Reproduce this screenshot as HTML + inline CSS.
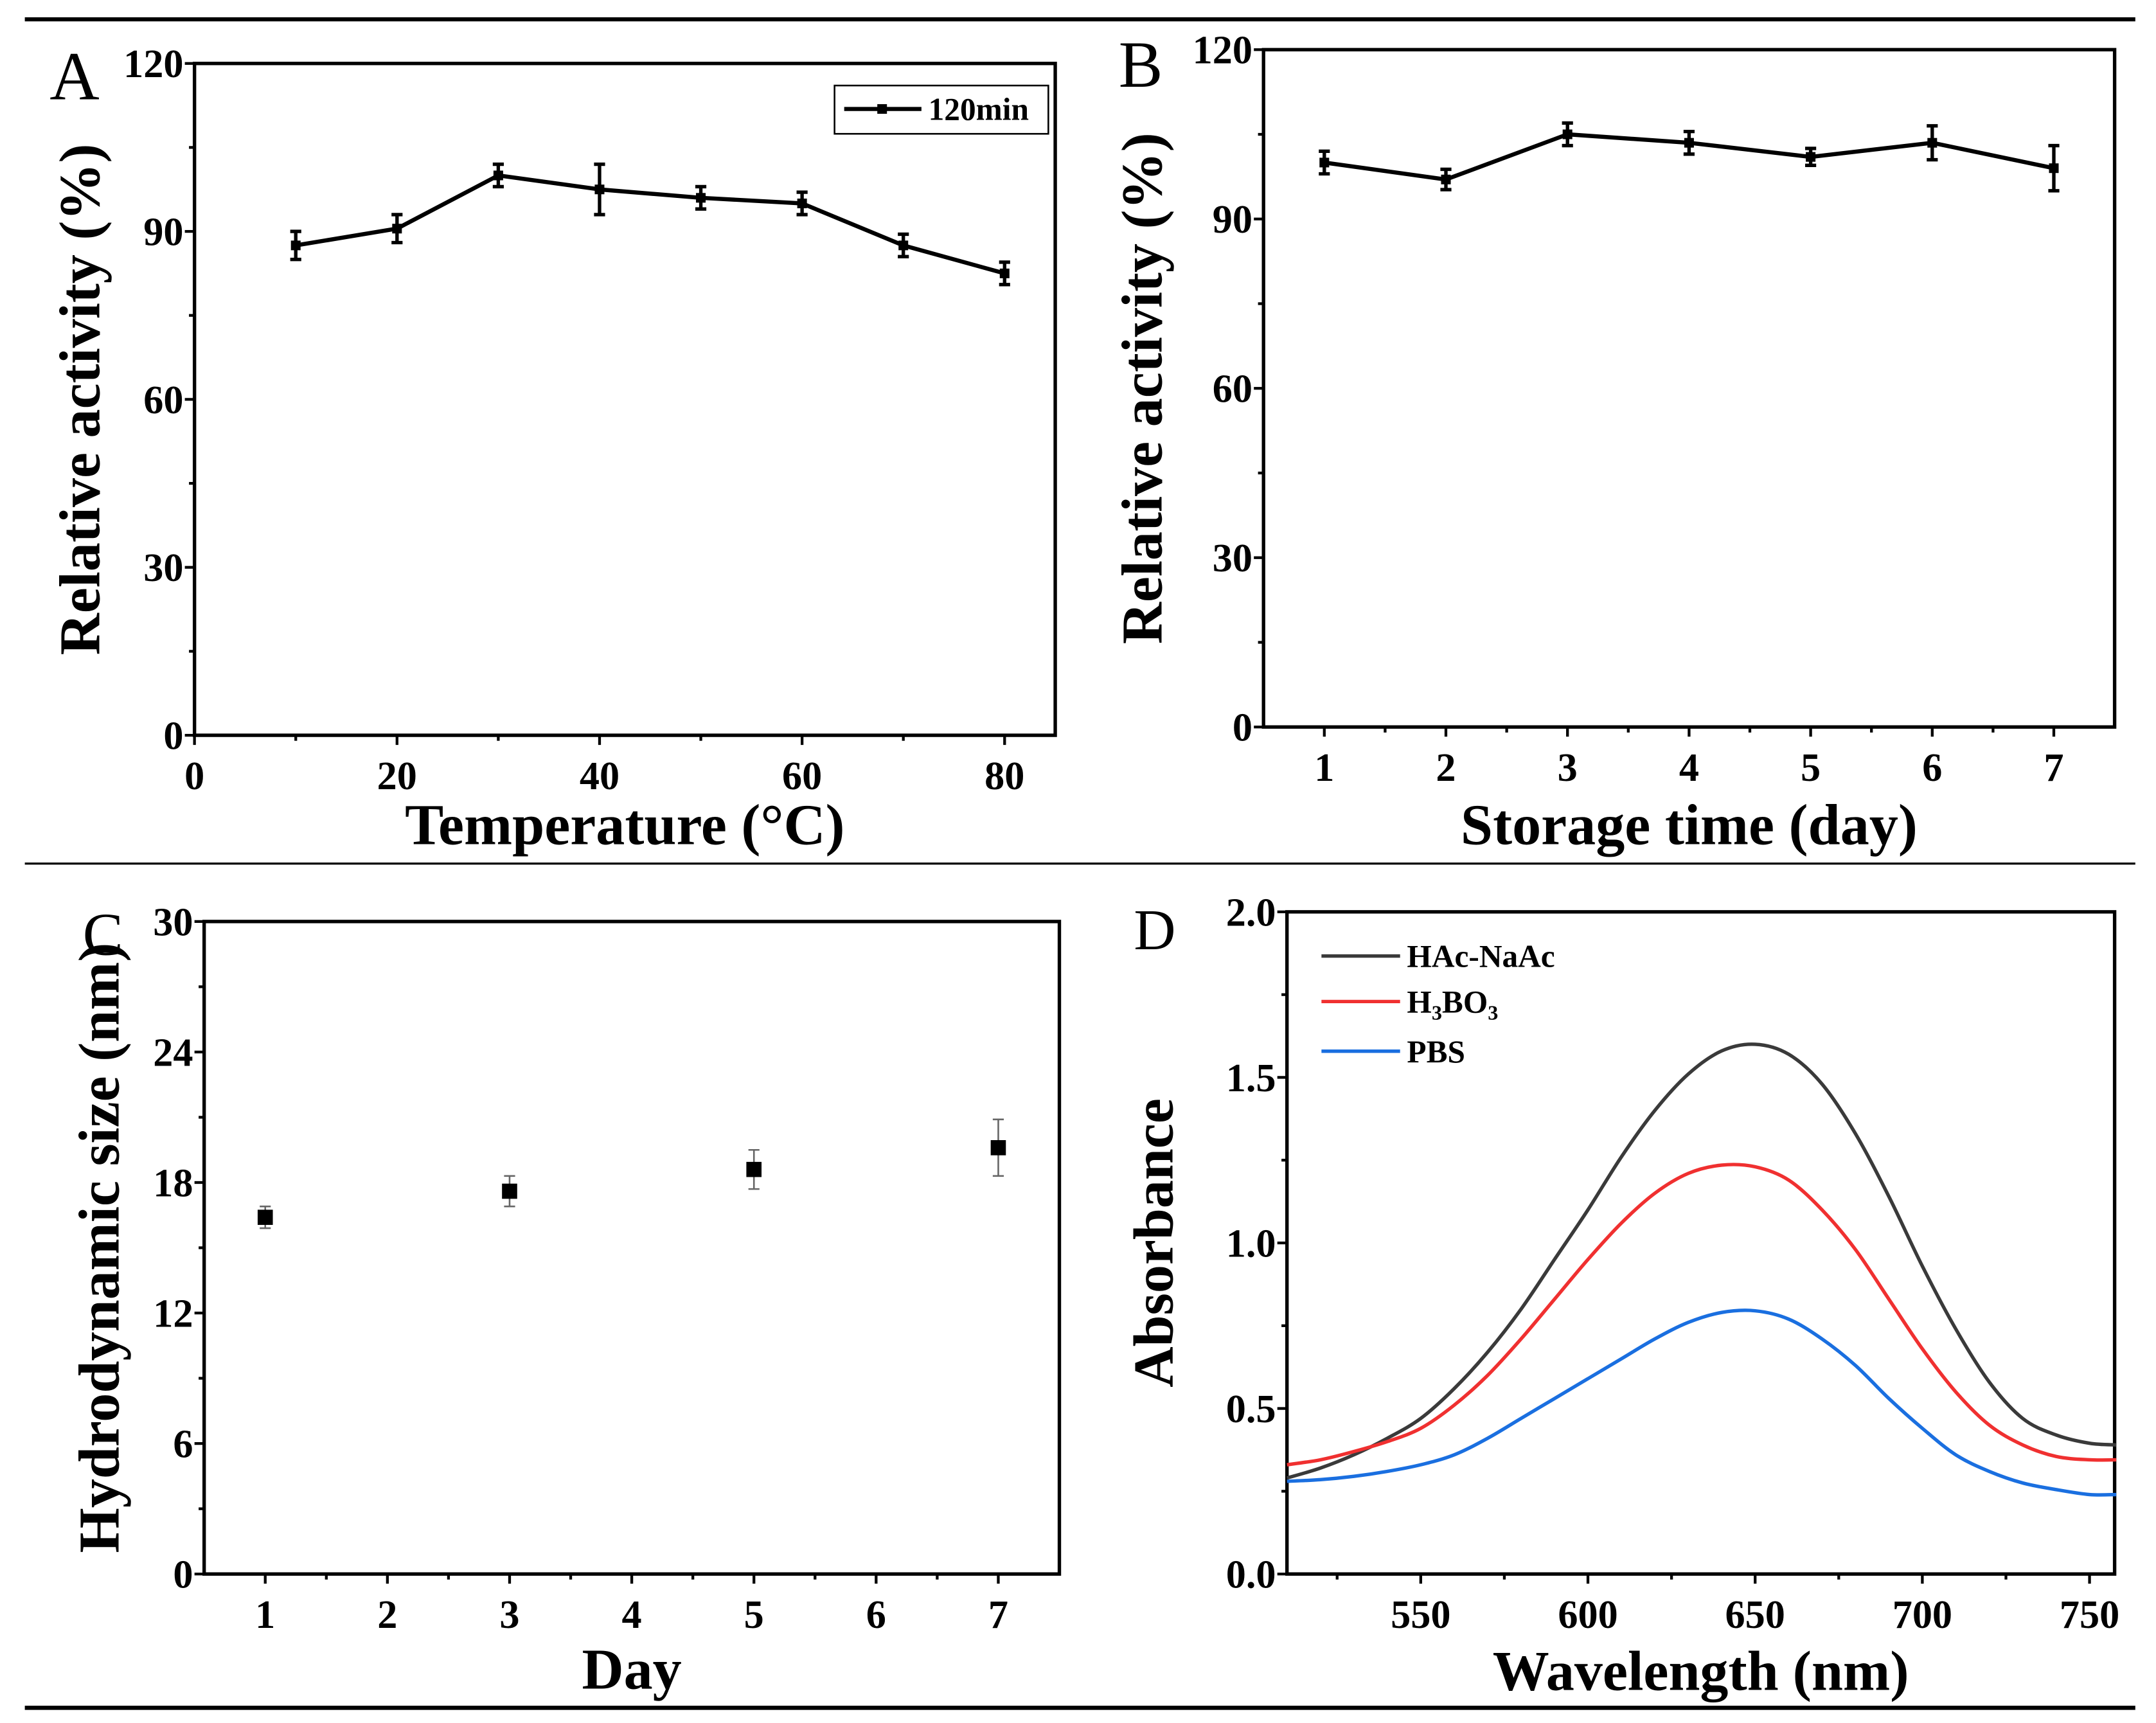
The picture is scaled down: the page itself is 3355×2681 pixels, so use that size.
<!DOCTYPE html>
<html><head><meta charset="utf-8"><style>
html,body{margin:0;padding:0;background:#fff}
svg{display:block}
text{font-family:"Liberation Serif",serif;font-weight:bold;fill:#000}
</style></head><body>
<svg id="fig" width="3355" height="2681" viewBox="0 0 1563 1249" preserveAspectRatio="none" xmlns="http://www.w3.org/2000/svg">
<rect width="1563" height="1249" fill="#fff"/>
<line x1="18" y1="14" x2="1548" y2="14" stroke="#000" stroke-width="3"/>
<line x1="18" y1="626" x2="1548" y2="626" stroke="#000" stroke-width="1.5"/>
<line x1="18" y1="1238" x2="1548" y2="1238" stroke="#000" stroke-width="3"/>
<g id="gA"></g>
<g id="gB"></g>
<g id="gC"></g>
<g id="gD"></g>
</svg>
<script>
// Panel A data
const tempX = [10,20,30,40,50,60,70,80];
const tempY = [87.5,90.5,100,97.5,96,95,87.5,82.5];
const tempErr = [2.5,2.5,2,4.5,2,2,2,2];
const tempXTicks = [0,20,40,60,80];
const actYTicks = [0,30,60,90,120];
// Panel B data
const dayB = [1,2,3,4,5,6,7];
const storeY = [100,97,105,103.5,101,103.5,99];
const storeErr = [2,1.8,2,2,1.5,3,4];
// Panel C data
const dayC = [1,3,5,7];
const sizeY = [16.4,17.6,18.6,19.6];
const sizeErr = [0.5,0.7,0.9,1.3];
const sizeYTicks = [0,6,12,18,24,30];
// Panel D data
const wl = [510,520,530,540,550,560,570,580,590,600,610,620,630,640,650,660,670,680,690,700,710,720,730,740,750,758];
const absHAc = [0.29,0.32,0.36,0.41,0.47,0.56,0.67,0.80,0.95,1.10,1.26,1.40,1.51,1.58,1.60,1.57,1.48,1.33,1.14,0.93,0.74,0.58,0.47,0.42,0.395,0.39];
const absH3BO3 = [0.33,0.345,0.37,0.40,0.44,0.51,0.60,0.71,0.83,0.95,1.06,1.15,1.21,1.235,1.23,1.19,1.10,0.98,0.83,0.68,0.55,0.45,0.39,0.355,0.345,0.345];
const absPBS = [0.28,0.285,0.295,0.31,0.33,0.36,0.41,0.47,0.53,0.59,0.65,0.71,0.76,0.79,0.795,0.77,0.71,0.63,0.53,0.44,0.36,0.31,0.275,0.255,0.24,0.24];
const absYTicks = [0,0.5,1.0,1.5,2.0];
const wlTicks = [550,600,650,700,750];

const NS="http://www.w3.org/2000/svg";
function mk(parent,tag,attrs,txt){const e=document.createElementNS(NS,tag);for(const k in attrs)e.setAttribute(k,attrs[k]);if(txt!==undefined)e.textContent=txt;parent.appendChild(e);return e;}
function scale(d0,d1,r0,r1){return v=>r0+(v-d0)*(r1-r0)/(d1-d0);}

function axes(g,L,R,T,B,sx,sy,xt,yt,xminor,yminor,xfmt,yfmt,xlab,ylab,xlabY,ylabX,fs){
  const box=mk(g,'rect',{x:L,y:T,width:R-L,height:B-T,fill:'none',stroke:'#000','stroke-width':2.5});
  
  
  xt.forEach(v=>{const x=sx(v);const t=mk(g,'line',{x1:x,y1:B,x2:x,y2:B+7,stroke:'#000','stroke-width':2});
    
    const l=mk(g,'text',{x:x,y:B+39,'text-anchor':'middle','font-size':29},xfmt(v));
    });
  xminor.forEach(v=>{const x=sx(v);const t=mk(g,'line',{x1:x,y1:B,x2:x,y2:B+4,stroke:'#000','stroke-width':2});
    });
  yt.forEach(v=>{const y=sy(v);const t=mk(g,'line',{x1:L,y1:y,x2:L-7,y2:y,stroke:'#000','stroke-width':2});
    
    const l=mk(g,'text',{x:L-8,y:y+10,'text-anchor':'end','font-size':29},yfmt(v));
    });
  yminor.forEach(v=>{const y=sy(v);const t=mk(g,'line',{x1:L,y1:y,x2:L-4,y2:y,stroke:'#000','stroke-width':2});
    });
  const xl=mk(g,'text',{x:(L+R)/2,y:xlabY,'text-anchor':'middle','font-size':fs},xlab);
  
  const cy=(T+B)/2;
  const yl=mk(g,'text',{x:ylabX,y:cy,'text-anchor':'middle','font-size':fs,transform:`rotate(-90 ${ylabX} ${cy})`},ylab);
  
}
function errbars(g,xs,ys,es,sx,sy,col,w,cap){
  xs.forEach((v,i)=>{const x=sx(v);const y1=sy(ys[i]-es[i]),y2=sy(ys[i]+es[i]);
    const e=mk(g,'path',{d:`M${x} ${y1}V${y2}M${x-cap} ${y1}H${x+cap}M${x-cap} ${y2}H${x+cap}`,stroke:col,'stroke-width':w,fill:'none'});
    });
}
function linepts(g,xs,ys,sx,sy,col,w,name){
  const p=mk(g,'polyline',{points:xs.map((v,i)=>sx(v)+','+sy(ys[i])).join(' '),fill:'none',stroke:col,'stroke-width':w,'stroke-linejoin':'round'});
  
}
function markers(g,xs,ys,sx,sy,s){
  xs.forEach((v,i)=>{const m=mk(g,'rect',{x:sx(v)-s/2,y:sy(ys[i])-s/2,width:s,height:s,fill:'#000'});
    });
}
function smooth(xs,ys,sx,sy){
  const P=xs.map((v,i)=>[sx(v),sy(ys[i])]);let d=`M${P[0][0]} ${P[0][1]}`;
  for(let i=0;i<P.length-1;i++){const p0=P[Math.max(0,i-1)],p1=P[i],p2=P[i+1],p3=P[Math.min(P.length-1,i+2)];
    d+=`C${p1[0]+(p2[0]-p0[0])/6} ${p1[1]+(p2[1]-p0[1])/6} ${p2[0]-(p3[0]-p1[0])/6} ${p2[1]-(p3[1]-p1[1])/6} ${p2[0]} ${p2[1]}`;}
  return d;
}
const id=v=>String(v);
// Panel A
(function(){const g=document.getElementById('gA');const L=141,R=765,T=46,B=533;
  const sx=scale(0,85,L,R),sy=scale(0,120,B,T);
  axes(g,L,R,T,B,sx,sy,tempXTicks,actYTicks,[10,30,50,70],[15,45,75,105],id,id,'Temperature (°C)','Relative activity (%)',612,72,42);
  errbars(g,tempX,tempY,tempErr,sx,sy,'#000',2.5,4);
  linepts(g,tempX,tempY,sx,sy,'#000',3,'series-120min');
  markers(g,tempX,tempY,sx,sy,7);
  const lb=mk(g,'rect',{x:605,y:62,width:155,height:35,fill:'#fff',stroke:'#000','stroke-width':1.2});
  
  const ll=mk(g,'line',{x1:612,y1:79,x2:668,y2:79,stroke:'#000','stroke-width':3});
  
  const lm=mk(g,'rect',{x:636,y:75.5,width:7,height:7,fill:'#000'});
  
  const lt=mk(g,'text',{x:673,y:87,'font-size':23},'120min');
  
  const pl=mk(g,'text',{x:36,y:72,'font-size':50,style:'font-weight:normal'},'A');
  
})();
// Panel B
(function(){const g=document.getElementById('gB');const L=916,R=1533,T=36,B=527;
  const sx=scale(0.5,7.5,L,R),sy=scale(0,120,B,T);
  axes(g,L,R,T,B,sx,sy,dayB,actYTicks,[1.5,2.5,3.5,4.5,5.5,6.5],[15,45,75,105],id,id,'Storage time (day)','Relative activity (%)',612,842,42);
  errbars(g,dayB,storeY,storeErr,sx,sy,'#000',2.5,4);
  linepts(g,dayB,storeY,sx,sy,'#000',3,'series-storage');
  markers(g,dayB,storeY,sx,sy,7);
  const pl=mk(g,'text',{x:811,y:63,'font-size':48,style:'font-weight:normal'},'B');
  
})();
// Panel C
(function(){const g=document.getElementById('gC');const L=148,R=768,T=668,B=1141;
  const sx=scale(0.5,7.5,L,R),sy=scale(0,30,B,T);
  axes(g,L,R,T,B,sx,sy,[1,2,3,4,5,6,7],sizeYTicks,[1.5,2.5,3.5,4.5,5.5,6.5],[3,9,15,21,27],id,id,'Day','Hydrodynamic size (nm)',1224,86,42);
  errbars(g,dayC,sizeY,sizeErr,sx,sy,'#666',1.2,4);
  markers(g,dayC,sizeY,sx,sy,11);
  const pl=mk(g,'text',{x:60,y:692,'font-size':44,style:'font-weight:normal'},'C');
  
})();
// Panel D
(function(){const g=document.getElementById('gD');const L=933,R=1533,T=661,B=1141;
  const sx=scale(510,757.5,L,R),sy=scale(0,2,B,T);
  axes(g,L,R,T,B,sx,sy,wlTicks,absYTicks,[525,575,625,675,725],[0.25,0.75,1.25,1.75],id,v=>v.toFixed(1),'Wavelength (nm)','Absorbance',1225,850,41);
  const series=[[absHAc,'#3a3a3a','line-hac-naac'],[absH3BO3,'#f03030','line-h3bo3'],[absPBS,'#1a6fe0','line-pbs']];
  series.forEach(s=>{const p=mk(g,'path',{d:smooth(wl,s[0],sx,sy),fill:'none',stroke:s[1],'stroke-width':2.5});
    });
  const labs=[['HAc-NaAc','#3a3a3a',693],['H3BO3','#f03030',726],['PBS','#1a6fe0',762]];
  labs.forEach(l=>{const ln=mk(g,'line',{x1:958,y1:l[2],x2:1015,y2:l[2],stroke:l[1],'stroke-width':2.5});
    
    const t=mk(g,'text',{x:1020,y:l[2]+8,'font-size':23});
    
    if(l[0]==='H3BO3'){t.innerHTML='H<tspan font-size="15" dy="5">3</tspan><tspan dy="-5">BO</tspan><tspan font-size="15" dy="5">3</tspan>';}
    else t.textContent=l[0];});
  const pl=mk(g,'text',{x:822,y:688,'font-size':42,style:'font-weight:normal'},'D');
  
})();
</script>
</body></html>
